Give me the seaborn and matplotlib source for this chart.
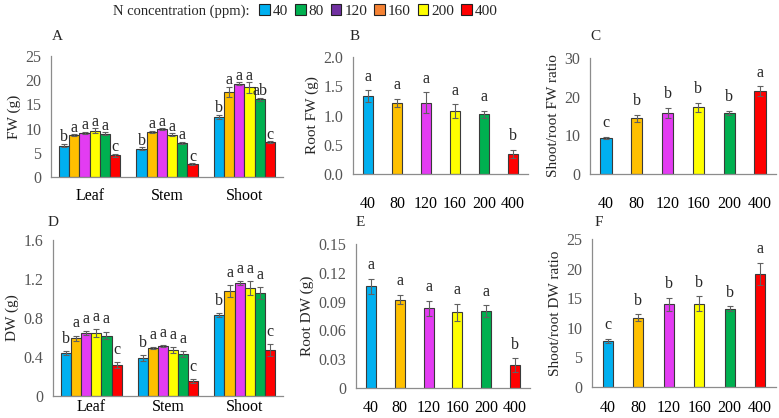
import matplotlib
matplotlib.use("Agg")
import matplotlib.pyplot as plt
import matplotlib.patches as mpatches
import seaborn as sns
import pandas as pd
import numpy as np

# ---------------- data ----------------
conc = ["40", "80", "120", "160", "200", "400"]
tissues = ["Leaf", "Stem", "Shoot"]

fw_leaf = [6.5, 8.6, 9.1, 9.6, 8.9, 4.5]
fw_stem = [5.8, 9.3, 9.9, 8.7, 7.1, 2.6]
fw_shoot = [12.4, 17.6, 19.3, 18.5, 16.1, 7.2]
fw_leaf_err = [0.3, 0.2, 0.3, 0.5, 0.3, 0.3]
fw_stem_err = [0.3, 0.3, 0.2, 0.3, 0.2, 0.2]
fw_shoot_err = [0.5, 1.0, 0.3, 1.1, 0.3, 0.2]
fw_leaf_let = ["b", "a", "a", "a", "a", "c"]
fw_stem_let = ["b", "a", "a", "a", "a", "c"]
fw_shoot_let = ["b", "a", "a", "a", "ab", "c"]

root_fw = [1.33, 1.22, 1.22, 1.07, 1.02, 0.34]
root_fw_err = [0.10, 0.07, 0.18, 0.12, 0.06, 0.07]
root_fw_let = ["a", "a", "a", "a", "a", "b"]

ratio_fw = [9.3, 14.4, 15.8, 17.2, 15.8, 21.4]
ratio_fw_err = [0.3, 0.9, 1.3, 1.2, 0.5, 1.3]
ratio_fw_let = ["c", "b", "b", "b", "b", "a"]

dw_leaf = [0.44, 0.59, 0.65, 0.65, 0.62, 0.32]
dw_stem = [0.39, 0.49, 0.51, 0.47, 0.43, 0.15]
dw_shoot = [0.83, 1.08, 1.16, 1.11, 1.06, 0.47]
dw_leaf_err = [0.02, 0.03, 0.02, 0.04, 0.04, 0.03]
dw_stem_err = [0.03, 0.01, 0.01, 0.03, 0.03, 0.02]
dw_shoot_err = [0.02, 0.06, 0.02, 0.07, 0.06, 0.06]
dw_leaf_let = ["b", "a", "a", "a", "a", "c"]
dw_stem_let = ["b", "a", "a", "a", "a", "c"]
dw_shoot_let = ["b", "a", "a", "a", "a", "c"]

root_dw = [0.106, 0.092, 0.083, 0.079, 0.080, 0.024]
root_dw_err = [0.008, 0.005, 0.008, 0.009, 0.006, 0.007]
root_dw_let = ["a", "a", "a", "a", "a", "b"]

ratio_dw = [7.8, 11.7, 14.0, 14.1, 13.2, 19.1]
ratio_dw_err = [0.3, 0.6, 1.1, 1.2, 0.4, 1.9]
ratio_dw_let = ["c", "b", "b", "b", "b", "a"]

yt_A = [0, 5, 10, 15, 20, 25]
yt_B = ["0.0", "0.5", "1.0", "1.5", "2.0"]
yt_C = [0, 10, 20, 30]
yt_D = ["0", "0.4", "0.8", "1.2", "1.6"]
yt_E = ["0", "0.03", "0.06", "0.09", "0.12", "0.15"]
yt_F = [0, 5, 10, 15, 20, 25]

# ---------------- style ----------------
bar_colors = ["#00B0F0", "#FFC000", "#E33CF2", "#FFFF00", "#00B050", "#FF0000"]
legend_colors = ["#00B0F0", "#00B050", "#7030A0", "#F58233", "#FFFF00", "#FF0000"]
edge = "#3a3a3a"
errc = "#606060"
spine_c = "#8c8c8c"
tick_c = "#555555"

sns.set_theme(style="white")
plt.rcParams["font.family"] = ["Liberation Serif", "DejaVu Serif"]
plt.rcParams["font.size"] = 10

fig = plt.figure(figsize=(7.79, 4.18), dpi=100)


def style_axes(ax, yticks, ylabel, xpad):
    vals = [float(v) for v in yticks]
    ax.set_ylim(vals[0], vals[-1])
    ax.set_yticks(vals)
    ax.set_yticklabels([str(v) for v in yticks], color=tick_c, fontsize=11.5)
    ax.set_ylabel(ylabel, fontsize=11, labelpad=3)
    ax.set_xlabel("")
    for s in ["top", "right"]:
        ax.spines[s].set_visible(False)
    for s in ["left", "bottom"]:
        ax.spines[s].set_color(spine_c)
        ax.spines[s].set_linewidth(0.9)
    ax.tick_params(axis="y", direction="out", length=3, width=0.8, color=spine_c, pad=4)
    ax.tick_params(axis="x", length=0, pad=xpad, labelsize=11.5, labelcolor="black")
    ax.set_facecolor("white")


def grouped(ax, vals, errs, lets, yticks, ylabel, off, xpad):
    rows = []
    for t, v in zip(tissues, vals):
        for c, y in zip(conc, v):
            rows.append({"tissue": t, "N": c, "val": y})
    df = pd.DataFrame(rows)
    sns.barplot(data=df, x="tissue", y="val", hue="N", order=tissues, hue_order=conc,
                palette=dict(zip(conc, bar_colors)), width=0.79, errorbar=None,
                saturation=1, edgecolor=edge, linewidth=0.8, legend=False, ax=ax)
    bar_conts = list(ax.containers)
    for i, cont in enumerate(bar_conts):
        for j, bar in enumerate(cont):
            xc = bar.get_x() + bar.get_width() / 2
            h = bar.get_height()
            e = errs[j][i]
            ax.errorbar(xc, h, yerr=e, color=errc, capsize=2, elinewidth=0.8, capthick=0.8)
            ax.annotate(lets[j][i], (xc, h + e), xytext=(0, off), textcoords="offset points",
                        ha="center", va="bottom", fontsize=11.5)
    ax.set_xlim(-0.5, 2.5)
    style_axes(ax, yticks, ylabel, xpad)


def single(ax, vals, errs, lets, yticks, ylabel, width, xpad):
    df = pd.DataFrame({"N": conc, "val": vals})
    sns.barplot(data=df, x="N", y="val", hue="N", order=conc, hue_order=conc,
                palette=dict(zip(conc, bar_colors)), width=width, errorbar=None,
                saturation=1, edgecolor=edge, linewidth=0.8, legend=False, ax=ax)
    bars = sorted(list(ax.patches), key=lambda b: b.get_x())
    for i, bar in enumerate(bars):
        xc = bar.get_x() + bar.get_width() / 2
        h = bar.get_height()
        ax.errorbar(xc, h, yerr=errs[i], color=errc, capsize=2, elinewidth=0.8, capthick=0.8)
        ax.annotate(lets[i], (xc, h + errs[i]), xytext=(0, 4), textcoords="offset points",
                    ha="center", va="bottom", fontsize=11.5)
    ax.set_xlim(-0.52, 5.52)
    style_axes(ax, yticks, ylabel, xpad)


W, H = 779, 418


def box(l, r, b, t):
    return [l / W, 1 - b / H, (r - l) / W, (b - t) / H]


axA = fig.add_axes(box(51, 283, 177, 56))
axB = fig.add_axes(box(353, 528, 174, 57))
axC = fig.add_axes(box(590, 776, 174, 58))
axD = fig.add_axes(box(53, 283, 396, 240))
axE = fig.add_axes(box(356, 530, 388, 244))
axF = fig.add_axes(box(592, 776, 387, 239))

grouped(axA, [fw_leaf, fw_stem, fw_shoot], [fw_leaf_err, fw_stem_err, fw_shoot_err],
        [fw_leaf_let, fw_stem_let, fw_shoot_let], yt_A, "FW (g)", -1, 8)
single(axB, root_fw, root_fw_err, root_fw_let, yt_B, "Root FW (g)", 0.35, 16)
single(axC, ratio_fw, ratio_fw_err, ratio_fw_let, yt_C, "Shoot/root FW ratio", 0.36, 16)
grouped(axD, [dw_leaf, dw_stem, dw_shoot], [dw_leaf_err, dw_stem_err, dw_shoot_err],
        [dw_leaf_let, dw_stem_let, dw_shoot_let], yt_D, "DW (g)", 3, 2)
single(axE, root_dw, root_dw_err, root_dw_let, yt_E, "Root DW (g)", 0.35, 9)
single(axF, ratio_dw, ratio_dw_err, ratio_dw_let, yt_F, "Shoot/root DW ratio", 0.34, 9)

# panel letters
for lab, (px, py) in zip("ABCDEF", [(57, 37), (355, 37), (595, 37), (53, 222), (360, 222), (599, 222)]):
    fig.text(px / W, 1 - py / H, lab, ha="center", va="center", fontsize=11)

# legend
fig.text(113 / W, 1 - 11 / H, "N concentration (ppm):", ha="left", va="center", fontsize=10.5)
handles = [mpatches.Patch(facecolor=c, edgecolor="#222222", linewidth=0.8, label=l)
           for c, l in zip(legend_colors, conc)]
fig.legend(handles=handles, loc="center left", bbox_to_anchor=(259 / W, 1 - 11 / H),
           ncol=6, frameon=False, fontsize=11, handlelength=0.7, handleheight=0.7,
           handletextpad=0.2, columnspacing=0.45, borderaxespad=0, borderpad=0)

fig.savefig("out.png", dpi=100, facecolor="white")
